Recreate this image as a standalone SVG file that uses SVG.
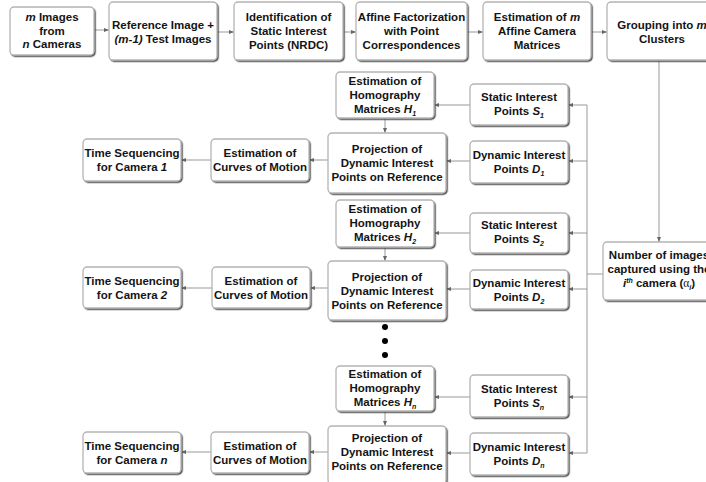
<svg xmlns="http://www.w3.org/2000/svg" width="706" height="482" viewBox="0 0 706 482">
<defs>
<filter id="sh" x="-10%" y="-10%" width="130%" height="130%">
<feDropShadow dx="1.2" dy="1.3" stdDeviation="0.4" flood-color="#444" flood-opacity="0.9"/>
</filter>
<marker id="ah" markerUnits="userSpaceOnUse" markerWidth="5" markerHeight="4" refX="5" refY="2" orient="auto">
<path d="M0,0 L5,2 L0,4 z" fill="#666"/>
</marker>
<style>
.box{fill:#fff;stroke:#b4b4b4;stroke-width:1.3;filter:url(#sh)}
text{font-family:"Liberation Sans",Arial,sans-serif;font-weight:bold;font-size:11.5px;fill:#141414;text-anchor:middle}
.i{font-style:italic}
.sub{font-size:7px;font-style:italic}
.c line,.c path{stroke:#999;stroke-width:1;fill:none}
.a{marker-end:url(#ah)}
</style>
</defs>
<rect width="706" height="482" fill="#fff"/>

<g class="c" id="connectors">
<line class="a" x1="94" y1="30" x2="109" y2="30"/>
<line class="a" x1="217" y1="32" x2="234" y2="32"/>
<line class="a" x1="343" y1="32" x2="356" y2="32"/>
<line class="a" x1="467" y1="32" x2="483" y2="32"/>
<line class="a" x1="591" y1="32" x2="607" y2="32"/>
<line class="a" x1="659" y1="60" x2="659" y2="242"/>
<line x1="587" y1="105" x2="587" y2="453"/>
<line x1="603" y1="274" x2="587" y2="274"/>
<line class="a" x1="587" y1="105" x2="568" y2="105"/>
<line class="a" x1="587" y1="161" x2="568" y2="161"/>
<line class="a" x1="587" y1="233" x2="568" y2="233"/>
<line class="a" x1="587" y1="289" x2="568" y2="289"/>
<line class="a" x1="587" y1="397" x2="568" y2="397"/>
<line class="a" x1="587" y1="453" x2="568" y2="453"/>
<line class="a" x1="470" y1="105" x2="434" y2="105"/>
<line class="a" x1="470" y1="161" x2="446" y2="161"/>
<line class="a" x1="385" y1="118" x2="385" y2="133"/>
<line class="a" x1="328" y1="160" x2="309" y2="160"/>
<line class="a" x1="211" y1="160" x2="181" y2="160"/>
<line class="a" x1="470" y1="233" x2="434" y2="233"/>
<line class="a" x1="470" y1="289" x2="446" y2="289"/>
<line class="a" x1="385" y1="247" x2="385" y2="261"/>
<line class="a" x1="328" y1="288" x2="310" y2="288"/>
<line class="a" x1="212" y1="288" x2="181" y2="288"/>
<line class="a" x1="470" y1="397" x2="434" y2="397"/>
<line class="a" x1="470" y1="453" x2="446" y2="453"/>
<line class="a" x1="385" y1="411" x2="385" y2="426"/>
<line class="a" x1="328" y1="452" x2="309" y2="452"/>
<line class="a" x1="211" y1="452" x2="181" y2="452"/>
</g>

<g id="n1"><rect class="box" x="10" y="7" width="84" height="48" rx="4"/>
<text x="52" y="21"><tspan class="i">m</tspan> Images</text><text x="52" y="35">from</text><text x="52" y="48"><tspan class="i">n</tspan> Cameras</text></g>
<g id="n2"><rect class="box" x="109" y="2" width="108" height="58" rx="4"/>
<text x="163" y="29">Reference Image +</text><text x="163" y="43"><tspan class="i">(m-1)</tspan> Test Images</text></g>
<g id="n3"><rect class="box" x="234" y="2" width="109" height="58" rx="4"/>
<text x="288.5" y="21">Identification of</text><text x="288.5" y="35">Static Interest</text><text x="288.5" y="49">Points (NRDC)</text></g>
<g id="n4"><rect class="box" x="356" y="2" width="111" height="58" rx="4"/>
<text x="411.5" y="21">Affine Factorization</text><text x="411.5" y="35">with Point</text><text x="411.5" y="49">Correspondences</text></g>
<g id="n5"><rect class="box" x="483" y="2" width="108" height="58" rx="4"/>
<text x="537" y="21">Estimation of <tspan class="i">m</tspan></text><text x="537" y="35">Affine Camera</text><text x="537" y="49">Matrices</text></g>
<g id="n6"><rect class="box" x="607" y="2" width="110" height="58" rx="4"/>
<text x="662" y="29">Grouping into <tspan class="i">m</tspan></text><text x="662" y="43">Clusters</text></g>
<g id="n7"><rect class="box" x="603" y="242" width="114" height="58" rx="4"/>
<text x="659" y="259">Number of images</text><text x="659" y="273">captured using the</text>
<text x="659" y="287"><tspan class="i">i</tspan><tspan class="sub" dy="-4">th</tspan><tspan dy="4"> camera (</tspan><tspan font-family="'Liberation Serif',serif" font-weight="normal">α</tspan><tspan class="sub" dy="3">i</tspan><tspan dy="-3">)</tspan></text></g>

<g id="h1"><rect class="box" x="336" y="72" width="98" height="46" rx="4"/>
<text x="385" y="85">Estimation of</text><text x="385" y="99">Homography</text><text x="385" y="113">Matrices <tspan class="i">H</tspan><tspan class="sub" dy="3">1</tspan></text></g>
<g id="s1"><rect class="box" x="470" y="84" width="98" height="41" rx="4"/>
<text x="519" y="101">Static Interest</text><text x="519" y="115">Points <tspan class="i">S</tspan><tspan class="sub" dy="3">1</tspan></text></g>
<g id="d1"><rect class="box" x="470" y="141" width="98" height="42" rx="4"/>
<text x="519" y="159">Dynamic Interest</text><text x="519" y="173">Points <tspan class="i">D</tspan><tspan class="sub" dy="3">1</tspan></text></g>
<g id="p1"><rect class="box" x="328" y="133" width="118" height="60" rx="4"/>
<text x="387" y="153">Projection of</text><text x="387" y="167">Dynamic Interest</text><text x="387" y="181">Points on Reference</text></g>
<g id="c1"><rect class="box" x="211" y="139" width="98" height="42" rx="4"/>
<text x="260" y="157">Estimation of</text><text x="260" y="171">Curves of Motion</text></g>
<g id="t1"><rect class="box" x="83" y="139" width="98" height="42" rx="4"/>
<text x="132" y="157">Time Sequencing</text><text x="132" y="171">for Camera <tspan class="i">1</tspan></text></g>

<g id="h2"><rect class="box" x="336" y="200" width="98" height="47" rx="4"/>
<text x="385" y="213">Estimation of</text><text x="385" y="227">Homography</text><text x="385" y="241">Matrices <tspan class="i">H</tspan><tspan class="sub" dy="3">2</tspan></text></g>
<g id="s2"><rect class="box" x="470" y="213" width="98" height="40" rx="4"/>
<text x="519" y="229">Static Interest</text><text x="519" y="243">Points <tspan class="i">S</tspan><tspan class="sub" dy="3">2</tspan></text></g>
<g id="d2"><rect class="box" x="470" y="270" width="98" height="39" rx="4"/>
<text x="519" y="287">Dynamic Interest</text><text x="519" y="301">Points <tspan class="i">D</tspan><tspan class="sub" dy="3">2</tspan></text></g>
<g id="p2"><rect class="box" x="328" y="261" width="118" height="59" rx="4"/>
<text x="387" y="281">Projection of</text><text x="387" y="295">Dynamic Interest</text><text x="387" y="309">Points on Reference</text></g>
<g id="c2"><rect class="box" x="212" y="267" width="98" height="41" rx="4"/>
<text x="261" y="285">Estimation of</text><text x="261" y="299">Curves of Motion</text></g>
<g id="t2"><rect class="box" x="83" y="267" width="98" height="41" rx="4"/>
<text x="132" y="285">Time Sequencing</text><text x="132" y="299">for Camera <tspan class="i">2</tspan></text></g>

<g id="dots" fill="#000"><circle cx="385" cy="327" r="3"/><circle cx="385" cy="341" r="3"/><circle cx="385" cy="355" r="3"/></g>

<g id="hn"><rect class="box" x="336" y="366" width="98" height="45" rx="4"/>
<text x="385" y="378">Estimation of</text><text x="385" y="392">Homography</text><text x="385" y="406">Matrices <tspan class="i">H</tspan><tspan class="sub" dy="3">n</tspan></text></g>
<g id="sn"><rect class="box" x="470" y="375" width="98" height="42" rx="4"/>
<text x="519" y="393">Static Interest</text><text x="519" y="407">Points <tspan class="i">S</tspan><tspan class="sub" dy="3">n</tspan></text></g>
<g id="dn"><rect class="box" x="470" y="433" width="98" height="42" rx="4"/>
<text x="519" y="451">Dynamic Interest</text><text x="519" y="465">Points <tspan class="i">D</tspan><tspan class="sub" dy="3">n</tspan></text></g>
<g id="pn"><rect class="box" x="328" y="426" width="118" height="58" rx="4"/>
<text x="387" y="442">Projection of</text><text x="387" y="456">Dynamic Interest</text><text x="387" y="470">Points on Reference</text></g>
<g id="cn"><rect class="box" x="211" y="432" width="98" height="41" rx="4"/>
<text x="260" y="450">Estimation of</text><text x="260" y="464">Curves of Motion</text></g>
<g id="tn"><rect class="box" x="83" y="432" width="98" height="41" rx="4"/>
<text x="132" y="450">Time Sequencing</text><text x="132" y="464">for Camera <tspan class="i">n</tspan></text></g>
</svg>
